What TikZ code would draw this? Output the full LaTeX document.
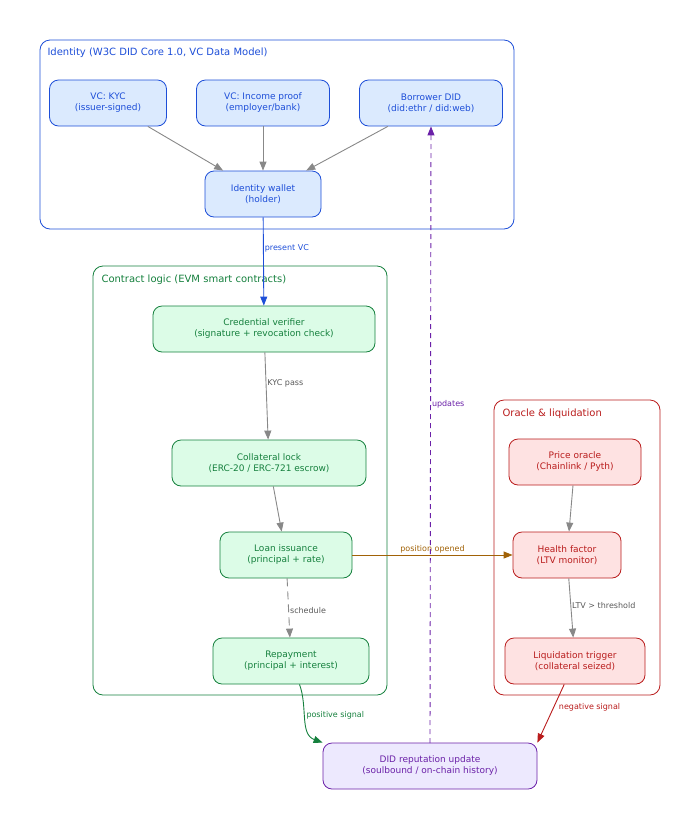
\documentclass[tikz,border=0pt]{standalone}
\usepackage{fontspec}
\setmainfont{DejaVu Sans}
\usetikzlibrary{arrows.meta}
\definecolor{bS}{HTML}{1D4ED8}\definecolor{bF}{HTML}{DBEAFE}
\definecolor{gS}{HTML}{15803D}\definecolor{gF}{HTML}{DCFCE7}
\definecolor{rS}{HTML}{B91C1C}\definecolor{rF}{HTML}{FEE2E2}
\definecolor{pS}{HTML}{6B21A8}\definecolor{pF}{HTML}{EDE9FE}
\definecolor{oS}{HTML}{A16207}\definecolor{gr}{HTML}{888888}
\begin{document}
\begin{tikzpicture}[x=1pt,y=-1pt,
 box/.style={draw,rounded corners=9pt,minimum height=46pt,align=center,font=\fontsize{9}{11}\selectfont,inner sep=2pt,line width=0.8pt},
 bn/.style={box,draw=bS,fill=bF,text=bS},
 gn/.style={box,draw=gS,fill=gF,text=gS},
 rn/.style={box,draw=rS,fill=rF,text=rS},
 pn/.style={box,draw=pS,fill=pF,text=pS},
 clu/.style={rounded corners=10pt,line width=0.8pt},
 clab/.style={anchor=west,font=\fontsize{10}{12}\selectfont},
 e/.style={-{Triangle[length=9pt,width=7pt]},line width=0.9pt,draw=gr},
 el/.style={font=\fontsize{8}{10}\selectfont,anchor=west,inner sep=1pt}]
\useasboundingbox (0,0) rectangle (700,820);
\draw[clu,draw=bS] (40,40) rectangle (514,229);
\node[clab,text=bS] (l1) at (44,53) {Identity (W3C DID Core 1.0, VC Data Model)};
\draw[clu,draw=gS] (93,266) rectangle (387,695);
\node[clab,text=gS] (l2) at (98,280) {Contract logic (EVM smart contracts)};
\draw[clu,draw=rS] (494,400) rectangle (660,695);
\node[clab,text=rS] (l3) at (499,414) {Oracle \& liquidation};
\node[bn,minimum width=117pt] (kyc) at (108,103) {VC: KYC\\(issuer-signed)};
\node[bn,minimum width=133pt] (inc) at (263,103) {VC: Income proof\\(employer/bank)};
\node[bn,minimum width=143pt] (did) at (431,103) {Borrower DID\\(did:ethr / did:web)};
\node[bn,minimum width=116pt] (wal) at (263,194) {Identity wallet\\(holder)};
\node[gn,minimum width=222pt] (ver) at (264,329) {Credential verifier\\(signature + revocation check)};
\node[gn,minimum width=194pt] (lock) at (269,463) {Collateral lock\\(ERC-20 / ERC-721 escrow)};
\node[gn,minimum width=132pt] (loan) at (286,555) {Loan issuance\\(principal + rate)};
\node[gn,minimum width=156pt] (rep) at (291,661) {Repayment\\(principal + interest)};
\node[rn,minimum width=132pt] (po) at (575,462) {Price oracle\\(Chainlink / Pyth)};
\node[rn,minimum width=108pt] (hf) at (567,555) {Health factor\\(LTV monitor)};
\node[rn,minimum width=140pt] (liq) at (575,661) {Liquidation trigger\\(collateral seized)};
\node[pn,minimum width=214pt] (rpu) at (430,766) {DID reputation update\\(soulbound / on-chain history)};
\draw[e] (kyc) -- (wal);
\draw[e] (inc) -- (wal);
\draw[e] (did) -- (wal);
\draw[e,draw=bS] (wal) -- node[el,text=bS,pos=0.35] {present VC} (ver);
\draw[e] (ver) -- node[el,text=black!65,pos=0.35] {KYC pass} (lock);
\draw[e] (lock) -- (loan);
\draw[e,dash pattern=on 8pt off 5pt] (loan) -- node[el,text=black!65,pos=0.55] {schedule} (rep);
\draw[e,draw=oS] (loan) -- node[font=\fontsize{8}{10}\selectfont,text=oS,above,inner sep=1pt] {position opened} (hf);
\draw[e] (po) -- (hf);
\draw[e] (hf) -- node[el,text=black!65,pos=0.45] {LTV > threshold} (liq);
\draw[e,draw=gS] (rep) to[out=-70,in=160] node[el,text=gS,pos=0.45] {positive signal} (rpu.north west);
\draw[e,draw=rS] (liq) -- node[el,text=rS,pos=0.4,xshift=4pt] {negative signal} (rpu.north east);
\coordinate (rpt) at (430,743);
\draw[e,draw=pS,dash pattern=on 5pt off 4pt] (rpt) -- node[el,text=pS,pos=0.55] {updates} (did.south);
\end{tikzpicture}
\end{document}
